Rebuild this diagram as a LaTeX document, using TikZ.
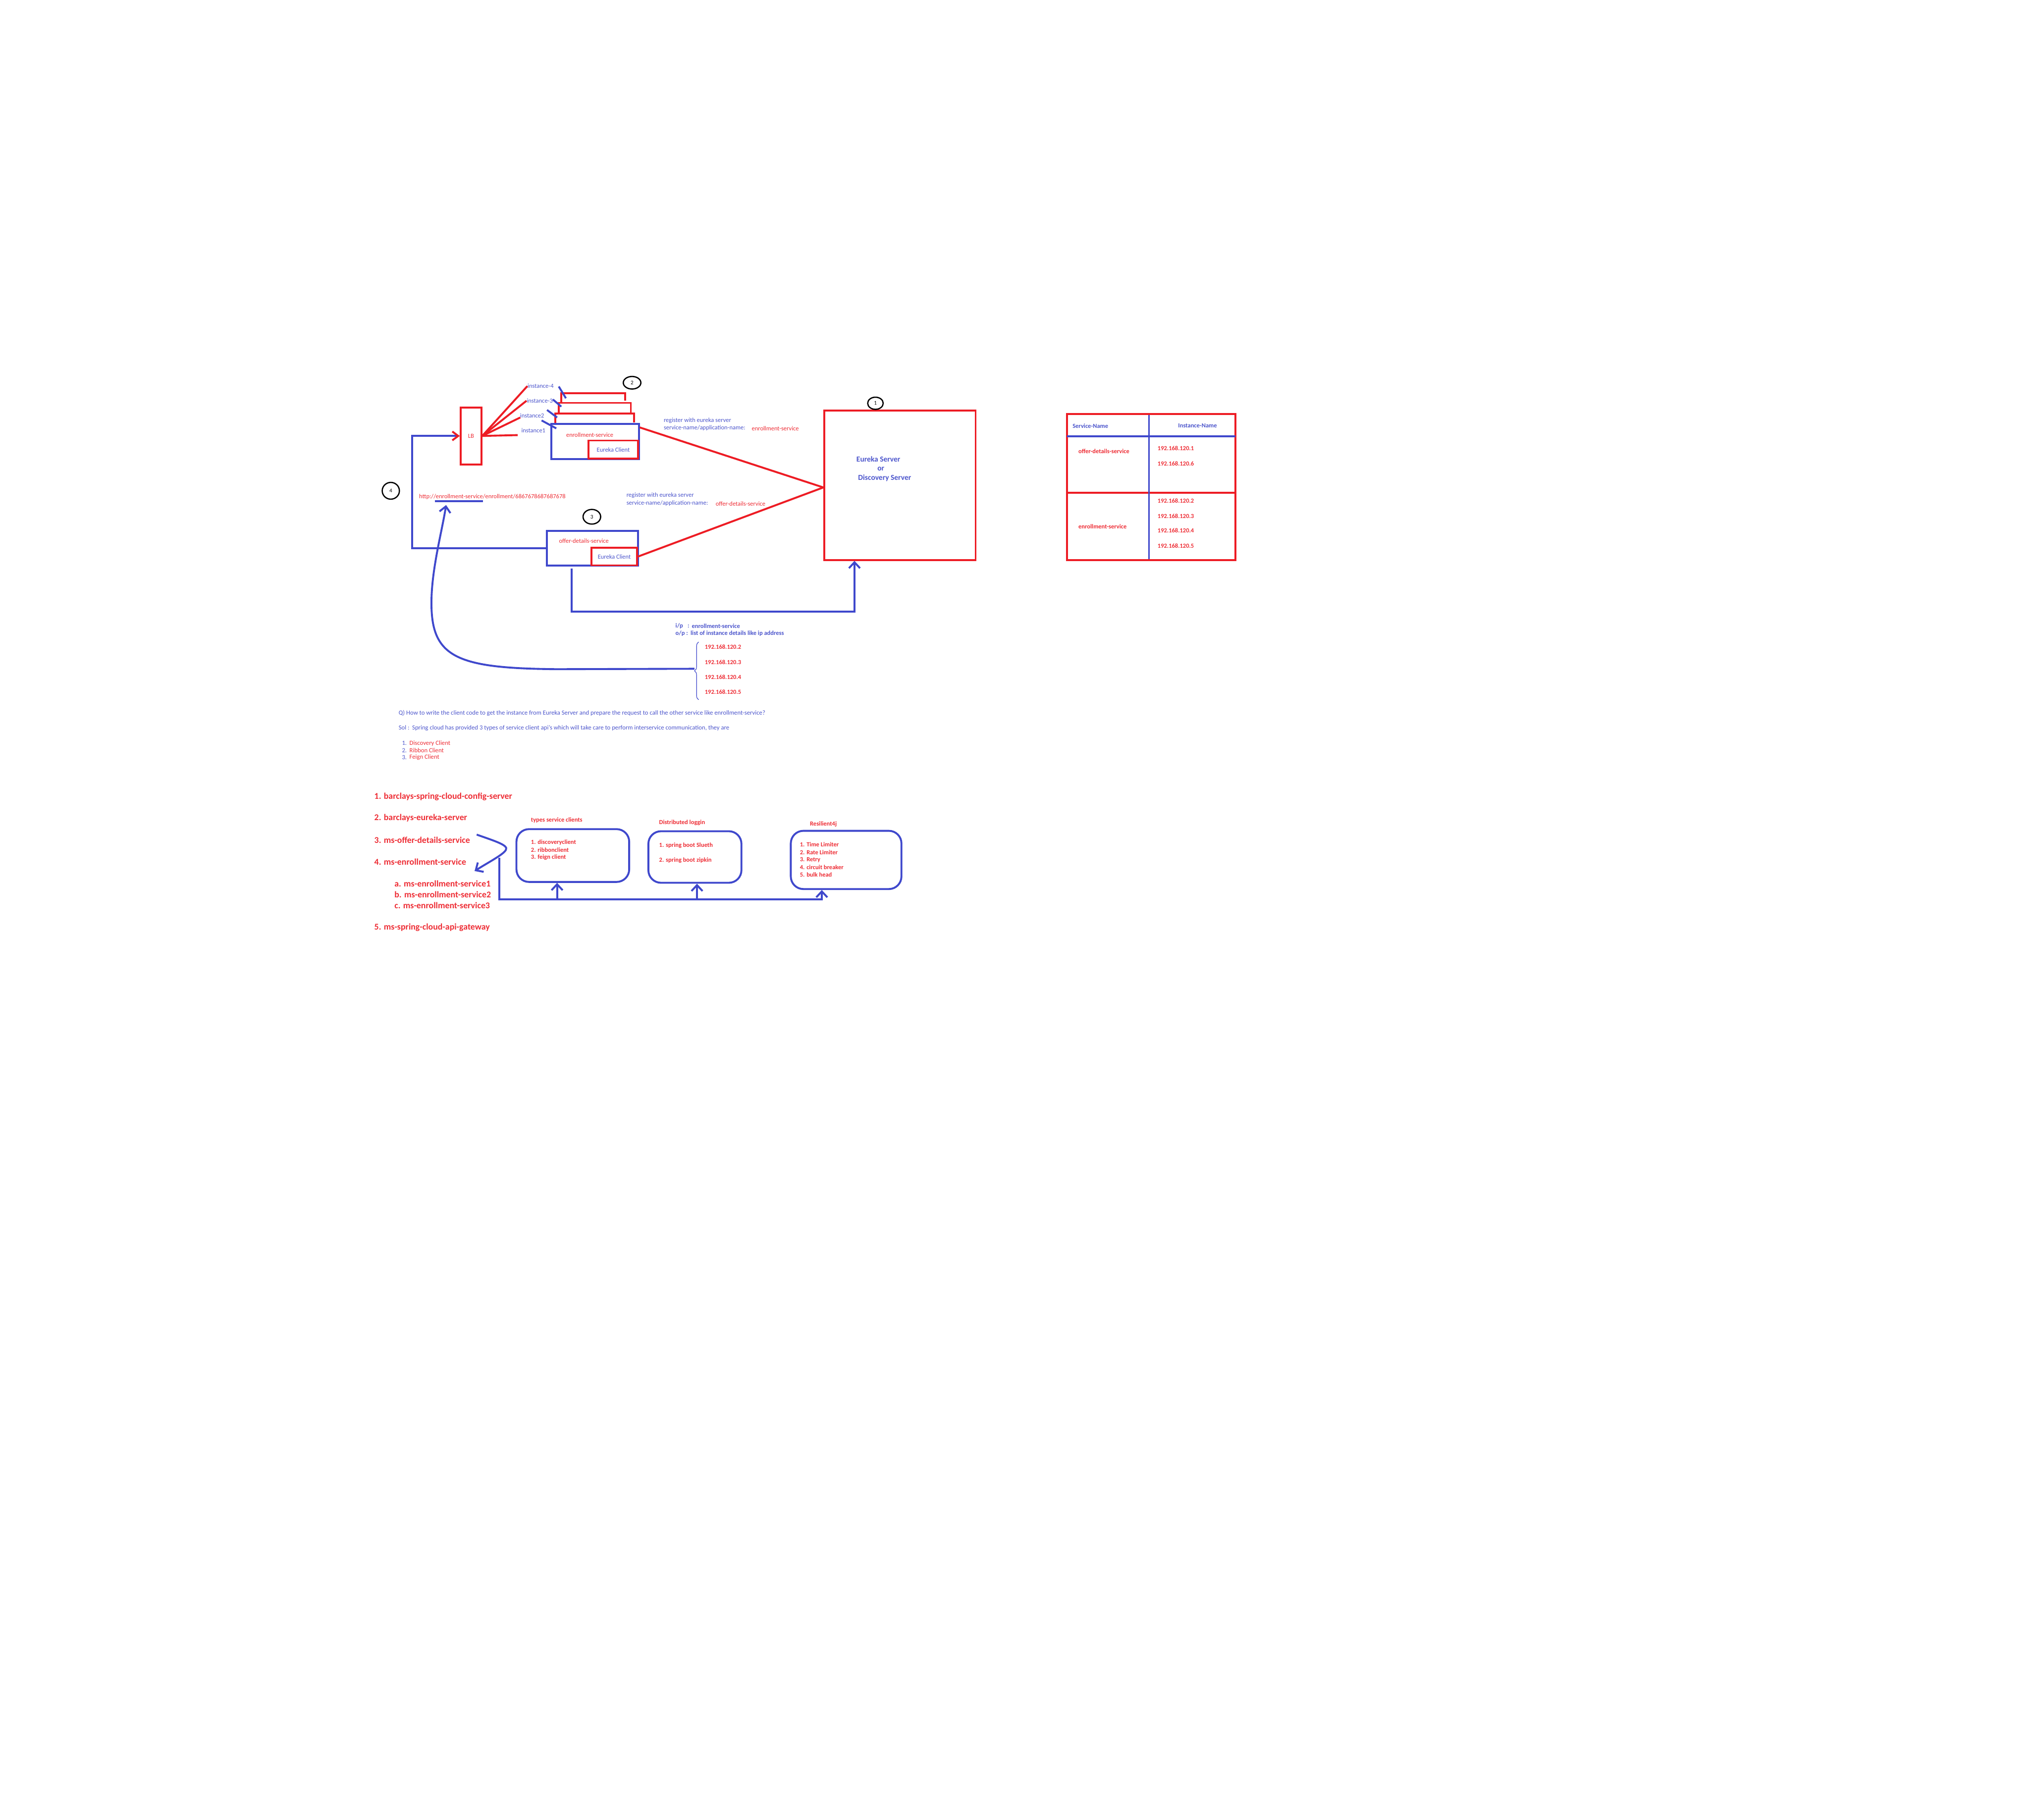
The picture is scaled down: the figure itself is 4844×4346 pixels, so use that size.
\documentclass[tikz,border=0pt]{standalone}
\usepackage{fontspec}
\setmainfont{Carlito}
\usetikzlibrary{arrows.meta,decorations.pathreplacing,shapes.geometric,calc}
\definecolor{lred}{HTML}{ED1C24}
\definecolor{lblue}{HTML}{3F48CC}
\definecolor{tred}{HTML}{EE2D35}
\definecolor{tblue}{HTML}{4C55CC}
\newcommand\fsA{\fontsize{4.2pt}{5pt}\selectfont}
\newcommand\fsQ{\fontsize{4.27pt}{5pt}\selectfont}
\newcommand\fsE{\fontsize{5.2pt}{6pt}\selectfont\bfseries}
\newcommand\fsL{\fontsize{6pt}{7pt}\selectfont\bfseries}
\newcommand\fsM{\fontsize{3.8pt}{4.5pt}\selectfont}
\tikzset{
  rl/.style={draw=lred, line width=1.3pt},
  bl/.style={draw=lblue, line width=1.3pt},
  rbox/.style={rectangle, draw=lred, line width=1.3pt, inner sep=0pt},
  bbox/.style={rectangle, draw=lblue, line width=1.3pt, inner sep=0pt},
  barb/.style={-{Straight Barb[length=4pt,width=7.5pt]}},
  txt/.style={inner sep=0pt, anchor=west, font=\fsA},
  btxt/.style={inner sep=0pt, anchor=west, font=\fsA\bfseries},
  qtxt/.style={inner sep=0pt, anchor=west, font=\fsQ},
  ltxt/.style={inner sep=0pt, anchor=west, font=\fsL, text=tred},
  marker/.style={ellipse, draw=black, line width=0.85pt, inner sep=0pt, font=\fsM},
}
\begin{document}
\begin{tikzpicture}[x=0.01cm,y=-0.01cm]
\fill[white] (0,0) rectangle (4844,4346);
\useasboundingbox (0,0) rectangle (4844,4346);

% ---------- top: load balancer and enrollment instances ----------
\node[rbox, minimum width=0.49cm, minimum height=1.36cm, text=tred, font=\fsA] (lb) at (1124.5,1041) {LB};

\node[txt, text=tblue] (in4) at (1259,922) {instance-4};
\node[txt, text=tblue] (in3) at (1257,957) {instance-3};
\node[txt, text=tblue] (in2) at (1241,993) {instance2};
\node[txt, text=tblue] (in1) at (1244,1028) {instance1};
\coordinate (i2end) at (1242,997);
\coordinate (i1end) at (1236,1039);
\draw[rl] (lb.east) -- (in4.west);
\draw[rl] (lb.east) -- (in3.west);
\draw[rl] (lb.east) -- (i2end);
\draw[rl] (lb.east) -- (i1end);

% stacked instance boxes
\draw[rl] (1340,960) |- (1492,939) -- (1492,957);
\draw[rl] (1334,987) |- (1506,962) -- (1506,985);
\draw[rl] (1326,1012) |- (1514,987) -- (1514,1009);
% blue ticks
\draw[bl] (1334,923) -- (1351,951);
\draw[bl] (1320,954) -- (1340,971);
\draw[bl] (1306,979) -- (1330,997);
\draw[bl] (1293,1004) -- (1328,1023);

\node[bbox, minimum width=2.09cm, minimum height=0.84cm] (enr) at (1420.5,1054) {};
\node[rbox, minimum width=1.18cm, minimum height=0.43cm, text=tblue, font=\fsA] (enrc) at (1464,1073.5) {Eureka Client};
\node[txt, anchor=center, text=tred] (enrt) at (1408,1039) {enrollment-service};

\node[marker, minimum width=0.42cm, minimum height=0.30cm] (m2) at (1509,914) {2};

% ---------- offer details service ----------
\node[bbox, minimum width=2.17cm, minimum height=0.83cm] (off) at (1414.5,1309.5) {};
\node[rbox, minimum width=1.09cm, minimum height=0.42cm, text=tblue, font=\fsA] (offc) at (1466.5,1329) {Eureka Client};
\node[txt, anchor=center, text=tred] (offt) at (1394,1292) {offer-details-service};
\node[marker, minimum width=0.42cm, minimum height=0.35cm] (m3) at (1413,1234) {3};

% offer -> LB
\coordinate (lbcorner) at (984,1041);
\draw[bl, -{Straight Barb[length=4pt,width=6pt,color=lred]}] (off.west) -| (lbcorner) -- (lb.west);
\node[marker, minimum width=0.41cm, minimum height=0.40cm] (m4) at (933,1172) {4};

% URL
\node[txt, text=tred] (url) at (1000,1186) {http://enrollment-service/enrollment/6867678687687678};
\draw[bl] (1038,1197) -- (1153,1197);
\coordinate (urlin) at (1065,1206);

% ---------- eureka server ----------
\node[rbox, minimum width=3.61cm, minimum height=3.56cm] (eur) at (2148.5,1159) {};
\node[inner sep=0pt, font=\fsE, text=tblue] (eur1) at (2097,1096) {Eureka Server};
\node[inner sep=0pt, font=\fsE, text=tblue] (eur2) at (2103,1120) {or};
\node[inner sep=0pt, font=\fsE, text=tblue] (eur3) at (2112,1141) {Discovery Server};
\node[marker, minimum width=0.37cm, minimum height=0.29cm] (m1) at (2090,963) {1};

\draw[rl] (enr.north east) ++(0,-0.11cm) coordinate (enrout) -- ([yshift=-0.05cm]eur.west);
\draw[rl] (offc.east) -- ([yshift=-0.05cm]eur.west);

\node[txt, text=tblue] (reg1a) at (1584,1004) {register with eureka server};
\node[txt, text=tblue] (reg1b) at (1584,1022) {service-name/application-name:};
\node[txt, text=tred] (reg1c) at (1794,1023) {enrollment-service};
\node[txt, text=tblue] (reg2a) at (1495,1183) {register with eureka server};
\node[txt, text=tblue] (reg2b) at (1495,1202) {service-name/application-name:};
\node[txt, text=tred] (reg2c) at (1708,1203) {offer-details-service};

% offer -> eureka (lookup)
\draw[bl, barb] ([xshift=-0.495cm,yshift=-0.04cm]off.south) |- ([xshift=-1.085cm,yshift=-1.21cm]eur.south) -- ([xshift=-1.085cm]eur.south);

% ---------- registry table ----------
\node[rbox, minimum width=4.02cm, minimum height=3.48cm] (tab) at (2748,1163) {};
\draw[rl] (2547,1177) -- (2949,1177);
\draw[bl] (2743,991) -- (2743,1335);
\draw[bl] (2547,1042) -- (2949,1042);
\node[btxt, text=tblue] (th1) at (2560,1017) {Service-Name};
\node[btxt, anchor=center, text=tblue] (th2) at (2859,1017) {Instance-Name};
\node[btxt, text=tred] (tr1) at (2574,1078) {offer-details-service};
\node[btxt, text=tred] (tip1) at (2763,1070) {192.168.120.1};
\node[btxt, text=tred] (tip6) at (2763,1107) {192.168.120.6};
\node[btxt, text=tred] (tr2) at (2574,1257) {enrollment-service};
\node[btxt, text=tred] (tip2) at (2763,1196) {192.168.120.2};
\node[btxt, text=tred] (tip3) at (2763,1232) {192.168.120.3};
\node[btxt, text=tred] (tip4) at (2763,1267) {192.168.120.4};
\node[btxt, text=tred] (tip5) at (2763,1303) {192.168.120.5};

% ---------- lookup result ----------
\node[btxt, text=tblue] (ip1) at (1612,1495) {i/p};
\node[btxt, text=tblue] (ip2) at (1641,1495) {:};
\node[btxt, text=tblue] (ip3) at (1651,1495) {enrollment-service};
\node[btxt, text=tblue] (op1) at (1612,1513) {o/p :};
\node[btxt, text=tblue] (op2) at (1648,1513) {list of instance details like ip address};
\node[btxt, text=tred] (rip2) at (1682,1545) {192.168.120.2};
\node[btxt, text=tred] (rip3) at (1682,1581) {192.168.120.3};
\node[btxt, text=tred] (rip4) at (1682,1617) {192.168.120.4};
\node[btxt, text=tred] (rip5) at (1682,1652) {192.168.120.5};
\draw[lblue, line width=0.4pt, decorate, decoration={brace, amplitude=0.1cm}] (1668,1671) -- (1668,1533);
\coordinate (brtip) at (1658,1597);
\draw[bl, barb] (brtip) -- (1330,1598) .. controls (1090,1596) and (1030,1570) .. (1030,1440) .. controls (1030,1360) and (1055,1270) .. (urlin);

% ---------- question ----------
\node[qtxt, text=tblue] (q1) at (951,1703) {Q) How to write the client code to get the instance from Eureka Server and prepare the request to call the other service like enrollment-service?};
\node[qtxt, text=tblue] (q2) at (951,1739) {Sol :\ \ Spring cloud has provided 3 types of service client api's which will take care to perform interservice communication, they are};
\node[qtxt, text=tblue] (qn1) at (959,1775) {1.};
\node[qtxt, text=tred] (qa1) at (977,1775) {Discovery Client};
\node[qtxt, text=tblue] (qn2) at (959,1792) {2.};
\node[qtxt, text=tred] (qa2) at (977,1792) {Ribbon Client};
\node[qtxt, text=tblue] (qn3) at (959,1809) {3.};
\node[qtxt, text=tred] (qa3) at (977,1809) {Feign Client};

% ---------- project list ----------
\node[ltxt] (p1) at (893,1902) {1. barclays-spring-cloud-config-server};
\node[ltxt] (p2) at (893,1953) {2. barclays-eureka-server};
\node[ltxt] (p3) at (893,2006) {3. ms-offer-details-service};
\node[ltxt] (p4) at (893,2058) {4. ms-enrollment-service};
\node[ltxt] (p4a) at (941,2110) {a. ms-enrollment-service1};
\node[ltxt] (p4b) at (941,2136) {b. ms-enrollment-service2};
\node[ltxt] (p4c) at (941,2162) {c. ms-enrollment-service3};
\node[ltxt] (p5) at (893,2215) {5. ms-spring-cloud-api-gateway};

% ---------- feature boxes ----------
\node[bbox, rounded corners=0.3cm, minimum width=2.69cm, minimum height=1.26cm] (types) at (1367.5,2043) {};
\node[btxt, text=tred] (typest) at (1267,1958) {types service clients};
\node[btxt, text=tred] (ty1) at (1267,2012) {1. discoveryclient};
\node[btxt, text=tred] (ty2) at (1267,2030) {2. ribbonclient};
\node[btxt, text=tred] (ty3) at (1267,2047) {3. feign client};

\node[bbox, rounded corners=0.3cm, minimum width=2.22cm, minimum height=1.23cm] (dist) at (1659,2046.5) {};
\node[btxt, text=tred] (distt) at (1573,1965) {Distributed loggin};
\node[btxt, text=tred] (di1) at (1573,2019) {1. spring boot Slueth};
\node[btxt, text=tred] (di2) at (1573,2054) {2. spring boot zipkin};

\node[bbox, rounded corners=0.3cm, minimum width=2.64cm, minimum height=1.39cm] (res) at (2020,2053.5) {};
\node[btxt, text=tred] (rest) at (1933,1968) {Resilient4j};
\node[btxt, text=tred] (re1) at (1909,2017) {1. Time Limiter};
\node[btxt, text=tred] (re2) at (1909,2036) {2. Rate Limiter};
\node[btxt, text=tred] (re3) at (1909,2053) {3. Retry};
\node[btxt, text=tred] (re4) at (1909,2071) {4. circuit breaker};
\node[btxt, text=tred] (re5) at (1909,2089) {5. bulk head};

% hook arrow and bus
\coordinate (hk0) at (1138,1993);
\coordinate (hk1) at (1133,2080);
\draw[bl, barb] (hk0) .. controls (1180,2008) and (1214,2018) .. (1208,2029) .. controls (1203,2040) and (1168,2058) .. (hk1);
\coordinate (bus) at (1192,2048);
\draw[bl, barb] (bus) |- ([xshift=-0.58cm,yshift=-0.22cm]res.south) -- ([xshift=-0.58cm]res.south);
\draw[bl, barb] ([xshift=-0.375cm,yshift=-0.39cm]types.south) -- ([xshift=-0.375cm]types.south);
\draw[bl, barb] ([xshift=0.05cm,yshift=-0.37cm]dist.south) -- ([xshift=0.05cm]dist.south);
\end{tikzpicture}
\end{document}
